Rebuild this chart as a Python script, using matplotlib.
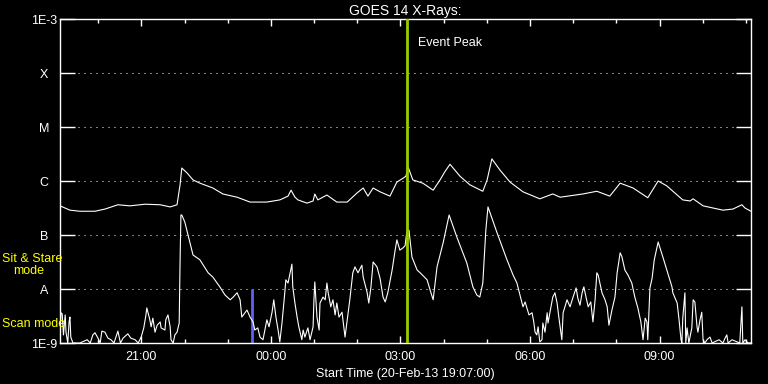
import matplotlib
matplotlib.use("Agg")
import matplotlib.pyplot as plt
import matplotlib.dates as mdates
import numpy as np
import pandas as pd

plt.rcParams["font.family"] = ["Liberation Sans", "DejaVu Sans"]

START = pd.Timestamp("2013-02-20 19:07:00")
END = START + pd.Timedelta(hours=16)

# long channel (1-8 A): hours after start, log10 flux
long_hours = [0.00, 0.23, 0.46, 0.81, 1.04, 1.34, 1.62, 1.97, 2.32, 2.55, 2.71, 2.78, 2.82, 2.94,
              3.08, 3.24, 3.54, 3.77, 4.10, 4.40, 4.79, 5.09, 5.28, 5.35, 5.44, 5.51, 5.72, 5.86,
              5.90, 5.97, 6.18, 6.41, 6.65, 6.88, 7.02, 7.13, 7.25, 7.41, 7.64, 7.80, 7.96, 8.01,
              8.06, 8.17, 8.40, 8.64, 8.80, 8.91, 9.03, 9.26, 9.49, 9.79, 9.89, 10.00, 10.19,
              10.42, 10.72, 11.11, 11.41, 11.58, 12.11, 12.43, 12.73, 12.97, 13.27, 13.61, 13.85,
              14.05, 14.42, 14.59, 14.66, 14.89, 15.35, 15.58, 15.79, 15.86, 16.00]
long_logflux = [-6.46, -6.54, -6.56, -6.56, -6.52, -6.44, -6.46, -6.43, -6.44, -6.48, -6.44, -6.07,
                -5.76, -5.85, -5.98, -6.04, -6.13, -6.24, -6.30, -6.39, -6.39, -6.35, -6.28, -6.17,
                -6.30, -6.35, -6.41, -6.37, -6.24, -6.35, -6.26, -6.39, -6.39, -6.22, -6.13, -6.28,
                -6.13, -6.20, -6.28, -6.02, -5.94, -5.91, -5.74, -5.98, -6.04, -6.17, -5.98, -5.83,
                -5.69, -5.91, -6.07, -6.19, -5.98, -5.59, -5.80, -6.02, -6.20, -6.33, -6.24, -6.30,
                -6.24, -6.19, -6.28, -6.04, -6.13, -6.31, -6.00, -6.09, -6.35, -6.37, -6.33, -6.46,
                -6.54, -6.52, -6.44, -6.50, -6.56]

# short channel (0.5-4 A): hours after start, log10 flux
short_hours = [0.00, 0.02, 0.05, 0.08, 0.12, 0.14, 0.18, 0.21, 0.23, 0.25, 0.30, 0.46, 0.63, 0.70,
               0.76, 0.81, 0.88, 0.93, 0.97, 1.04, 1.11, 1.18, 1.25, 1.34, 1.40, 1.46, 1.57, 1.64,
               1.74, 1.81, 1.88, 1.94, 1.99, 2.01, 2.08, 2.11, 2.15, 2.20, 2.25, 2.32, 2.34, 2.43,
               2.45, 2.50, 2.55, 2.57, 2.62, 2.66, 2.71, 2.76, 2.78, 2.80, 2.82, 2.89, 3.08, 3.24,
               3.43, 3.54, 3.70, 3.82, 3.94, 4.01, 4.10, 4.17, 4.21, 4.33, 4.40, 4.47, 4.51, 4.58,
               4.63, 4.70, 4.79, 4.84, 4.91, 4.95, 5.00, 5.05, 5.09, 5.14, 5.19, 5.23, 5.28, 5.33,
               5.37, 5.39, 5.44, 5.49, 5.53, 5.60, 5.63, 5.67, 5.74, 5.79, 5.86, 5.88, 5.90, 5.95,
               6.00, 6.02, 6.09, 6.14, 6.18, 6.21, 6.27, 6.32, 6.37, 6.41, 6.46, 6.53, 6.60, 6.65,
               6.71, 6.78, 6.83, 6.90, 6.99, 7.02, 7.11, 7.15, 7.20, 7.25, 7.34, 7.41, 7.48, 7.53,
               7.59, 7.69, 7.76, 7.80, 7.87, 7.94, 7.99, 8.03, 8.08, 8.15, 8.27, 8.34, 8.50, 8.57,
               8.64, 8.73, 8.87, 9.01, 9.19, 9.42, 9.56, 9.65, 9.72, 9.79, 9.86, 9.91, 10.12, 10.35,
               10.49, 10.58, 10.65, 10.72, 10.77, 10.81, 10.86, 10.93, 10.97, 11.00, 11.04, 11.07,
               11.11, 11.16, 11.18, 11.23, 11.28, 11.30, 11.37, 11.41, 11.46, 11.51, 11.55, 11.62,
               11.65, 11.74, 11.81, 11.88, 11.95, 11.99, 12.04, 12.09, 12.13, 12.18, 12.23, 12.29,
               12.34, 12.39, 12.43, 12.46, 12.55, 12.62, 12.67, 12.71, 12.78, 12.85, 12.90, 12.97,
               13.01, 13.08, 13.15, 13.24, 13.31, 13.38, 13.45, 13.50, 13.55, 13.59, 13.61, 13.66,
               13.71, 13.76, 13.85, 13.96, 14.07, 14.17, 14.19, 14.29, 14.33, 14.38, 14.40, 14.42,
               14.47, 14.49, 14.52, 14.56, 14.63, 14.66, 14.70, 14.75, 14.77, 14.82, 14.86, 14.89,
               14.93, 14.98, 15.05, 15.10, 15.26, 15.35, 15.40, 15.44, 15.47, 15.56, 15.74, 15.79,
               15.81, 15.86, 15.93, 16.00]
short_logflux = [-8.94, -8.44, -8.46, -8.85, -8.48, -8.81, -9.00, -8.61, -8.52, -8.89, -9.00, -9.00,
                 -8.94, -9.00, -8.85, -8.81, -8.91, -9.00, -8.78, -8.80, -8.91, -8.94, -9.00, -8.78,
                 -9.00, -8.91, -8.83, -8.91, -8.94, -9.00, -8.89, -8.72, -8.48, -8.35, -8.57, -8.70,
                 -8.54, -8.80, -8.67, -8.61, -8.72, -8.76, -8.57, -8.48, -8.70, -8.94, -9.00, -8.85,
                 -8.80, -8.63, -7.50, -6.63, -6.63, -6.76, -7.37, -7.46, -7.70, -7.78, -7.96, -8.11,
                 -8.20, -8.15, -8.07, -8.20, -8.52, -8.39, -8.52, -8.61, -8.76, -8.72, -8.89, -8.94,
                 -8.57, -8.70, -8.43, -8.20, -8.52, -8.76, -8.98, -8.63, -8.20, -7.83, -7.89, -7.70,
                 -7.54, -7.96, -8.26, -8.52, -8.70, -8.94, -8.76, -8.89, -8.72, -8.94, -8.70, -8.20,
                 -7.87, -8.52, -8.76, -8.26, -8.15, -8.20, -7.89, -8.07, -8.33, -8.20, -8.48, -8.26,
                 -8.52, -8.43, -8.89, -8.57, -8.20, -7.70, -7.59, -7.70, -7.56, -7.78, -8.06, -8.26,
                 -7.96, -7.50, -7.59, -7.80, -8.15, -8.24, -8.07, -7.65, -7.28, -7.09, -7.28, -7.24,
                 -7.20, -6.94, -6.91, -7.41, -7.65, -7.70, -7.83, -8.02, -8.20, -7.59, -7.15, -6.63,
                 -7.04, -7.52, -7.96, -8.11, -8.15, -7.89, -6.91, -6.48, -6.96, -7.46, -7.74, -7.89,
                 -8.11, -8.33, -8.24, -8.35, -8.48, -8.44, -8.61, -8.80, -8.85, -8.70, -8.98, -8.94,
                 -8.63, -8.80, -8.44, -8.63, -8.33, -8.15, -8.07, -8.26, -8.52, -8.94, -8.44, -8.20,
                 -8.33, -8.15, -7.98, -8.17, -8.30, -8.07, -7.96, -8.15, -8.33, -8.24, -8.61, -8.20,
                 -7.70, -7.74, -8.07, -8.20, -8.33, -8.67, -8.39, -8.15, -7.70, -7.33, -7.40, -7.65,
                 -7.74, -7.89, -8.15, -8.35, -8.61, -8.94, -8.54, -8.61, -8.94, -7.98, -7.80, -7.46,
                 -7.13, -7.41, -7.70, -7.96, -8.07, -8.26, -8.54, -8.94, -9.00, -8.54, -8.07, -9.00,
                 -8.72, -9.00, -8.72, -8.20, -8.24, -8.70, -8.80, -8.57, -8.43, -8.94, -9.00, -8.94,
                 -8.89, -9.00, -8.94, -9.00, -8.91, -8.85, -9.00, -8.94, -9.00, -8.33, -9.00, -8.94,
                 -9.00, -9.00]

flux_levels = [1e-9, 1e-8, 1e-7, 1e-6, 1e-5, 1e-4, 1e-3]
flux_labels = ["1E-9", "A", "B", "C", "M", "X", "1E-3"]

event_peak_hours = 8.03
scan_marker_hours = 4.45
scan_marker_top = 1e-8

long_t = START + pd.to_timedelta(long_hours, unit="h")
short_t = START + pd.to_timedelta(short_hours, unit="h")
long_f = 10 ** np.array(long_logflux)
short_f = np.clip(10 ** np.array(short_logflux), 1e-9, None)

W, H = 768, 384
fig = plt.figure(figsize=(W / 100, H / 100), dpi=100, facecolor="black")
ax = fig.add_axes([60 / W, 41 / H, 691 / W, 324 / H], facecolor="black")

ax.set_yscale("log")
ax.set_ylim(1e-9, 1e-3)
ax.set_xlim(START, END)

# dotted level lines
for lev in flux_levels[1:-1]:
    ax.axhline(lev, color="white", lw=0.72, ls=(0, (1, 5)), zorder=1)

ax.plot(long_t, long_f, color="white", lw=0.8, zorder=3)
ax.plot(short_t, short_f, color="white", lw=0.8, zorder=3)

peak_t = START + pd.Timedelta(hours=event_peak_hours)
ax.axvline(peak_t, color="#99cc00", lw=2.0, zorder=4)
scan_t = START + pd.Timedelta(hours=scan_marker_hours)
ax.plot([scan_t, scan_t], [1e-9, scan_marker_top], color="#6060ff", lw=2.0, zorder=2,
        solid_capstyle="butt")

for s in ax.spines.values():
    s.set_color("white")
    s.set_linewidth(1.0)

ax.set_yticks(flux_levels)
ax.set_yticklabels(flux_labels)
ax.yaxis.set_minor_locator(matplotlib.ticker.NullLocator())
ax.tick_params(axis="y", which="major", direction="in", length=10.5, width=1.0,
               colors="white", left=True, right=True, pad=11.5, labelsize=9)
for lbl in ax.get_yticklabels():
    lbl.set_horizontalalignment("center")

ax.xaxis.set_major_locator(mdates.HourLocator(byhour=range(0, 24, 3)))
ax.xaxis.set_minor_locator(mdates.HourLocator())
ax.xaxis.set_major_formatter(mdates.DateFormatter("%H:%M"))
ax.tick_params(axis="x", which="major", direction="in", length=5, width=1.0,
               colors="white", top=True, bottom=True, pad=6, labelsize=9)
ax.tick_params(axis="x", which="minor", direction="in", length=2.7, width=1.0,
               colors="white", top=True, bottom=True)

ax.set_xlabel("Start Time (20-Feb-13 19:07:00)", color="white", fontsize=9, labelpad=3)
ax.set_title("GOES 14 X-Rays:", color="white", fontsize=10, pad=3)

ax.text(peak_t + pd.Timedelta(minutes=15), 10 ** -3.45, "Event Peak", color="white",
        fontsize=9, va="center", ha="left")

fig.text(2 / W, 1 - 259 / H, "Sit & Stare", color="yellow", fontsize=9, va="center", ha="left")
fig.text(13 / W, 1 - 271 / H, "mode", color="yellow", fontsize=9, va="center", ha="left")
fig.text(2 / W, 1 - 324 / H, "Scan mode", color="yellow", fontsize=9, va="center", ha="left")

fig.savefig("out.png", dpi=100, facecolor="black")
